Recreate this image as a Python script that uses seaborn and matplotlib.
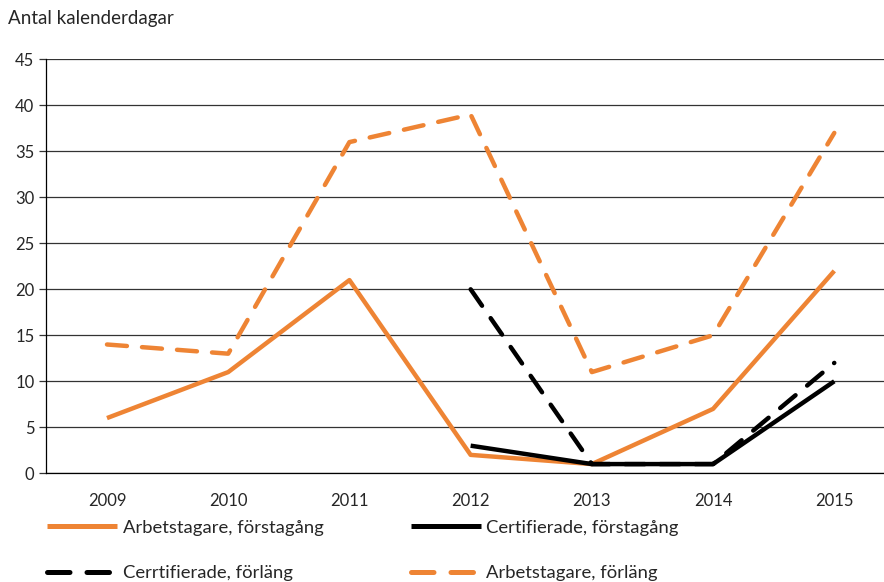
#!/usr/bin/env python3

"""Line chart: Antal kalenderdagar per år."""

import seaborn as sns
import pandas as pd
import numpy as np
import matplotlib.pyplot as plt

# DATA
years = ["2009", "2010", "2011", "2012", "2013", "2014", "2015"]
arb_forsta = [6, 11, 21, 2, 1, 7, 22]
cert_forsta = [np.nan, np.nan, np.nan, 3, 1, 1, 10]
cert_forlang = [np.nan, np.nan, np.nan, 20, 1, 1, 12]
arb_forlang = [14, 13, 36, 39, 11, 15, 37]

series = {
    "Arbetstagare, förstagång": arb_forsta,
    "Cerrtifierade, förläng": cert_forlang,
    "Certifierade, förstagång": cert_forsta,
    "Arbetstagare, förläng": arb_forlang,
}

ORANGE = "#EE8434"
palette = {
    "Arbetstagare, förstagång": ORANGE,
    "Cerrtifierade, förläng": "black",
    "Certifierade, förstagång": "black",
    "Arbetstagare, förläng": ORANGE,
}
dashes = {
    "Arbetstagare, förstagång": "",
    "Cerrtifierade, förläng": (4.5, 3.4),
    "Certifierade, förstagång": "",
    "Arbetstagare, förläng": (4.5, 3.4),
}

rows = []
for name, vals in series.items():
    for i, v in enumerate(vals):
        if not np.isnan(v):
            rows.append({"pos": i, "value": v, "serie": name})
df = pd.DataFrame(rows)

# THEME
sns.set_theme(style="white")
plt.rcParams["font.family"] = ["Lato", "DejaVu Sans"]

fig = plt.figure(figsize=(8.84, 5.82), dpi=100)
ax = fig.add_axes([0.0515, 0.1868, 1 - 0.0515, 0.8981 - 0.1868])

sns.lineplot(
    data=df, x="pos", y="value", hue="serie", style="serie",
    palette=palette, dashes=dashes, hue_order=list(series.keys()),
    style_order=list(series.keys()), linewidth=3.2, ax=ax, legend=True,
)
for line in ax.get_lines():
    line.set_solid_capstyle("butt")
    line.set_dash_capstyle("round")

ax.set_xlim(-0.507, 6.41)
ax.set_ylim(0, 45)
ax.set_yticks(range(0, 46, 5))
ax.set_xticks(range(len(years)))
ax.set_xticklabels(years)
ax.set_xlabel("")
ax.set_ylabel("")
ax.grid(axis="y", color="#333333", linewidth=0.9)
ax.set_axisbelow(True)
for s in ["top", "right"]:
    ax.spines[s].set_visible(False)
ax.spines["left"].set_color("black")
ax.spines["bottom"].set_color("black")
ax.spines["left"].set_linewidth(0.9)
ax.spines["bottom"].set_linewidth(0.9)
ax.tick_params(axis="y", length=5, width=0.9, color="#333333", labelsize=12, pad=3, left=True)
ax.tick_params(axis="x", length=0, labelsize=12, pad=14)

handles, labels = ax.get_legend_handles_labels()
ax.get_legend().remove()
for h in handles:
    h.set_linewidth(3.6)
leg = fig.legend(
    handles, labels, ncol=2, loc="upper left", bbox_to_anchor=(0.045, 0.12),
    frameon=False, fontsize=13.3, handlelength=3.8, handletextpad=0.3,
    labelspacing=1.6, columnspacing=4.7, borderaxespad=0,
)

fig.text(0.009, 0.968, "Antal kalenderdagar", fontsize=13.5, ha="left", va="center")

plt.savefig("out.png", dpi=100)
